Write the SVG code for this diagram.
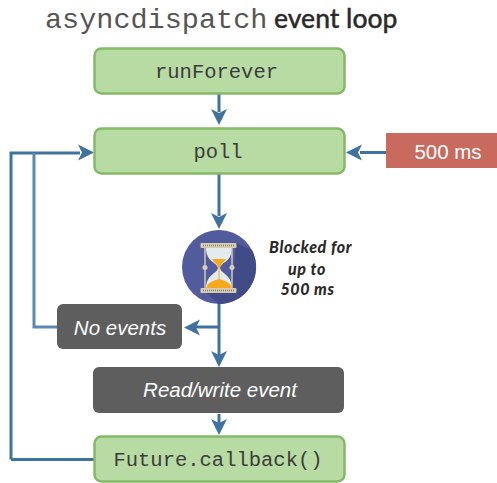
<svg xmlns="http://www.w3.org/2000/svg" width="497" height="483" viewBox="0 0 497 483">
<style>
.g{fill:#b8dba3;stroke:#84ba67;stroke-width:2.5}
.d{fill:#5e5e5e}
.m{font-family:"Liberation Mono",monospace;font-size:20.500px;fill:#3c3c3c;text-anchor:middle}
.i{font-family:"Liberation Sans",Arial,sans-serif;font-size:20.500px;font-style:italic;fill:#fff;text-anchor:middle}
.c{fill:none;stroke:#3f729f;stroke-width:3}
.b{font-family:"Lato",sans-serif;font-size:16px;font-weight:900;font-style:italic;fill:#2a2a2a;text-anchor:middle;letter-spacing:.6px}
</style>
<defs>
<path id="ah" d="M0 0L-16 -8L-12 0L-16 8Z" fill="#3f729f"/>
</defs>
<g id="title">
<text x="45" y="27.500" font-family="Liberation Mono,monospace" font-size="28.500" fill="#555">asyncdispatch</text>
<text x="274" y="27.500" font-family="Lato,sans-serif" font-size="26.500" font-weight="500" fill="#2b2b2b" stroke="#2b2b2b" stroke-width=".35">event loop</text>
</g>
<g id="connectors">
<path class="c" d="M219 94V112"/>
<use href="#ah" transform="translate(219 125) rotate(90)"/>
<path class="c" d="M11 459.500V153H80"/>
<path class="c" d="M11 459.500H94"/>
<use href="#ah" transform="translate(94 152.500)"/>
<path class="c" d="M57 327H34V153" style="stroke:#5a88b0"/>
<path class="c" d="M386 152.500H360"/>
<use href="#ah" transform="translate(346 152.500) rotate(180)"/>
<path class="c" d="M219 174V216"/>
<use href="#ah" transform="translate(219 229) rotate(90)"/>
<path class="c" d="M219 303V355"/>
<use href="#ah" transform="translate(219 367) rotate(90)"/>
<path class="c" d="M219 327H195"/>
<use href="#ah" transform="translate(184 327.500) rotate(180)"/>
<path class="c" d="M219 414V424"/>
<use href="#ah" transform="translate(219 435) rotate(90)"/>
</g>
<g id="runForever">
<rect class="g" x="94.500" y="48.500" width="250" height="45" rx="7"/>
<text class="m" x="216.500" y="78">runForever</text>
</g>
<g id="poll">
<rect class="g" x="94.500" y="128.500" width="250" height="45" rx="7"/>
<text class="m" x="218" y="158">poll</text>
</g>
<g id="timeout">
<rect x="386" y="133" width="111" height="35" fill="#c86b5e"/>
<text x="448" y="158.500" font-family="Liberation Sans,Arial,sans-serif" font-size="20.500" fill="#fff" text-anchor="middle">500 ms</text>
</g>
<g id="hourglass">
<circle cx="219" cy="267" r="37" fill="#525c9c"/>
<path d="M236 243L252 250A37 37 0 0 1 219 304L203 290L232 288Z" fill="#414b87"/>
<path d="M206 248C206 262 217 262 218 268C217 274 206 274 206 289H232C232 274 221 274 220 268C221 262 232 262 232 248Z" fill="#e3ebec"/>
<path d="M212 259H226C224 263 220 264 219.500 268V280H218.500V268C218 264 214 263 212 259Z" fill="#f7a81b"/>
<path d="M206.500 288C207 283 212 281 219 279C226 281 231 283 231.500 288Z" fill="#f7a81b"/>
<path d="M205 248V289M232 248V289" stroke="#cfc8b6" stroke-width="1.500" fill="none"/>
<circle cx="205" cy="267.500" r="2.500" fill="#d8cfb8"/>
<circle cx="232" cy="267.500" r="2.500" fill="#d8cfb8"/>
<rect x="200.500" y="243" width="36" height="5" rx="1" fill="#d6ccb2"/>
<rect x="200.500" y="288" width="36" height="5" rx="1" fill="#d6ccb2"/>
<path d="M203 245.500H234M203 290.500H234" stroke="#8d836c" stroke-width="1.500" stroke-dasharray="1 1" fill="none"/>
</g>
<g id="blocked-label">
<text class="b" x="310.500" y="253">Blocked for</text>
<text class="b" x="307" y="275">up to</text>
<text class="b" x="307.500" y="295">500 ms</text>
</g>
<g id="no-events">
<rect class="d" x="57" y="304" width="125" height="45" rx="6"/>
<text class="i" x="120" y="335">No events</text>
</g>
<g id="read-write">
<rect class="d" x="93" y="367" width="251" height="46" rx="6"/>
<text class="i" x="220" y="397">Read/write event</text>
</g>
<g id="future-callback">
<rect class="g" x="94.500" y="436.500" width="250" height="45" rx="7"/>
<text class="m" x="218" y="466">Future.callback()</text>
</g>
</svg>
